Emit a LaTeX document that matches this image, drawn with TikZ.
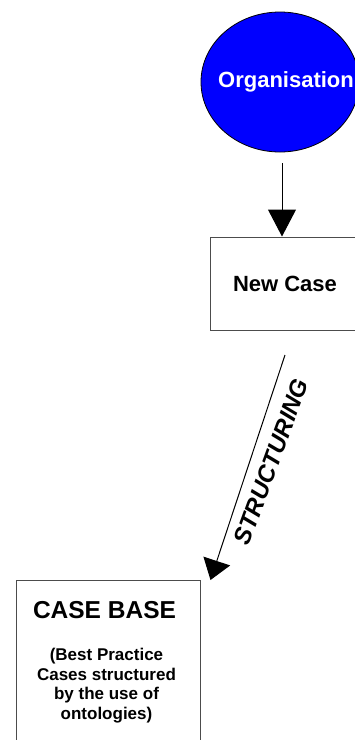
\documentclass[tikz,border=0pt]{standalone}
\usepackage{fontspec}
\setmainfont{Liberation Sans}
\usetikzlibrary{shapes.geometric,arrows.meta}
\tikzset{
  boxline/.style={draw=black!70, line width=1pt},
  conn/.style={draw=black, line width=1pt},
  bigfont/.style={font=\bfseries\fontsize{22}{26}\selectfont},
  titlefont/.style={font=\bfseries\fontsize{24.5}{28}\selectfont},
  smallfont/.style={font=\bfseries\fontsize{17}{19.5}\selectfont},
}
\begin{document}
\begin{tikzpicture}[x=1pt,y=-1pt]
\useasboundingbox (0,0) rectangle (355,740);
\clip (0,0) rectangle (355,740);
% Organisation ellipse
\node[ellipse, draw=black, line width=0.8pt, fill={rgb,255:red,0;green,0;blue,255},
      minimum width=158pt, minimum height=140pt, inner sep=0pt,
      text=white, bigfont] (org) at (280,82) {\makebox[0pt]{\hspace{12pt}Organisation}};
% New Case box
\node[rectangle, boxline, minimum width=150pt, minimum height=93pt, bigfont,
      text=black] (newcase) at (285,283.5) {New Case};
% arrow org -> new case
\coordinate (a1) at (282,163);
\draw[conn, -{Triangle[length=27pt,width=28pt]}] (a1) -- (a1 |- newcase.north);
% CASE BASE box
\node[rectangle, boxline, minimum width=184pt, minimum height=180pt,
      anchor=north west] (casebase) at (16,580) {};
\node[anchor=base, inner sep=0pt, titlefont, text=black] (cbtitle)
  at ([xshift=-4pt,yshift=-38.3pt]casebase.north) {CASE BASE};
\node[anchor=north, align=center, inner sep=0pt, smallfont, text=black] (cbsub)
  at ([xshift=-2pt,yshift=-68pt]casebase.north)
  {(Best Practice\\Cases structured\\by the use of\\ontologies)};
% structuring arrow
\coordinate (s1) at (285,355);
\coordinate (s2) at ([xshift=9.5pt]casebase.north east);
\draw[conn, -{Triangle[length=20pt,width=28pt]}] (s1) -- (s2);
\node[rotate=70, font=\bfseries\itshape\fontsize{24}{28}\selectfont, inner sep=0pt]
  (struct) at (271,462) {STRUCTURING};
\end{tikzpicture}
\end{document}
